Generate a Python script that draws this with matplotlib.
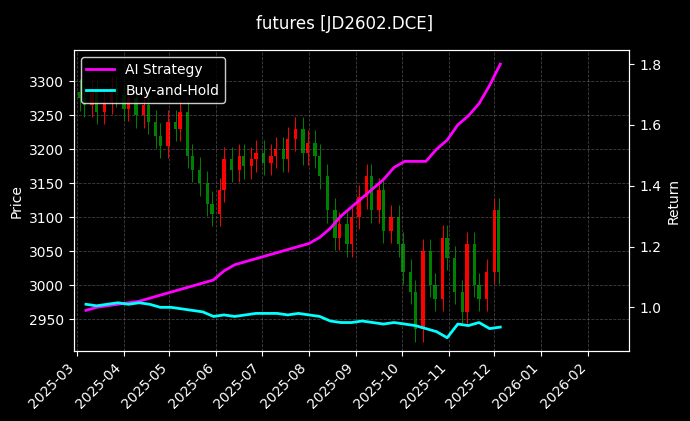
import matplotlib
matplotlib.use('Agg')
import matplotlib.pyplot as plt
import matplotlib.dates as mdates
import numpy as np
import pandas as pd

plt.style.use('dark_background')

# candles: one every 3 business days
candle_dates = pd.bdate_range('2025-03-03', periods=67, freq='3B')
closes = [3275, 3265, 3285, 3255, 3270, 3290, 3280,
          3260, 3275, 3250, 3265, 3240, 3220, 3205,
          3240, 3230, 3255, 3190, 3170, 3150, 3120,
          3105, 3140, 3185, 3170, 3190, 3175, 3185,
          3195, 3180, 3190, 3200, 3185, 3215, 3230, 3195,
          3210, 3190, 3160, 3110, 3070, 3090, 3060,
          3100, 3130, 3160, 3110, 3140, 3080, 3100,
          3060, 3020, 2990, 2935, 3050, 3000, 2980,
          3070, 3040, 2990, 2960, 3060, 3000, 2980,
          3020, 3110, 3020]
opens = [3285] + closes[:-1]

# weekly returns
ret_dates = pd.date_range('2025-03-07', '2025-12-05', freq='W-FRI')
ai_ret = [0.99, 1.0, 1.005, 1.01,
          1.015, 1.02, 1.03, 1.04,
          1.05, 1.06, 1.07, 1.08, 1.09,
          1.12, 1.14, 1.15, 1.16,
          1.17, 1.18, 1.19, 1.2,
          1.21, 1.23, 1.26, 1.3, 1.33,
          1.36, 1.39, 1.42, 1.46,
          1.48, 1.48, 1.48, 1.52, 1.55,
          1.60, 1.63, 1.67, 1.73,
          1.80]
bh_ret = [1.01, 1.005, 1.01, 1.015,
          1.01, 1.015, 1.01, 1.0,
          1.0, 0.995, 0.99, 0.985, 0.97,
          0.975, 0.97, 0.975, 0.98,
          0.98, 0.98, 0.975, 0.98,
          0.975, 0.97, 0.955, 0.95, 0.95,
          0.955, 0.95, 0.945, 0.95,
          0.945, 0.94, 0.93, 0.92, 0.90,
          0.945, 0.94, 0.95, 0.93,
          0.935]

fig = plt.figure(figsize=(6.9, 4.21), dpi=100)
ax = fig.add_axes([0.107, 0.166, 0.805, 0.715])
ax2 = ax.twinx()

o = np.array(opens)
c = np.array(closes)
colors = ['red' if cc >= oo else 'green' for oo, cc in zip(o, c)]
ax.bar(candle_dates, c - o, bottom=o, width=2.2, color=colors, linewidth=0)
ax.vlines(candle_dates, np.minimum(o, c) - 18, np.maximum(o, c) + 18, colors=colors, linewidth=0.7)

ax2.plot(ret_dates, ai_ret, color='magenta', linewidth=2, label='AI Strategy')
ax2.plot(ret_dates, bh_ret, color='cyan', linewidth=2, label='Buy-and-Hold')

ax.set_ylim(2903, 3346)
ax2.set_ylim(0.856, 1.846)
ax.set_xlim(pd.Timestamp('2025-02-27'), pd.Timestamp('2026-02-28'))
ax.xaxis.set_major_locator(mdates.MonthLocator())
ax.xaxis.set_major_formatter(mdates.DateFormatter('%Y-%m'))
plt.setp(ax.get_xticklabels(), rotation=45, ha='right')

ax.set_ylabel('Price')
ax2.set_ylabel('Return')
ax.grid(True, linestyle='--', color='gray', alpha=0.5, linewidth=0.6)

leg = ax2.legend(loc='upper left', facecolor='black', edgecolor='white')
fig.suptitle('futures [JD2602.DCE]', y=0.965)

plt.savefig('out.png', dpi=100)
